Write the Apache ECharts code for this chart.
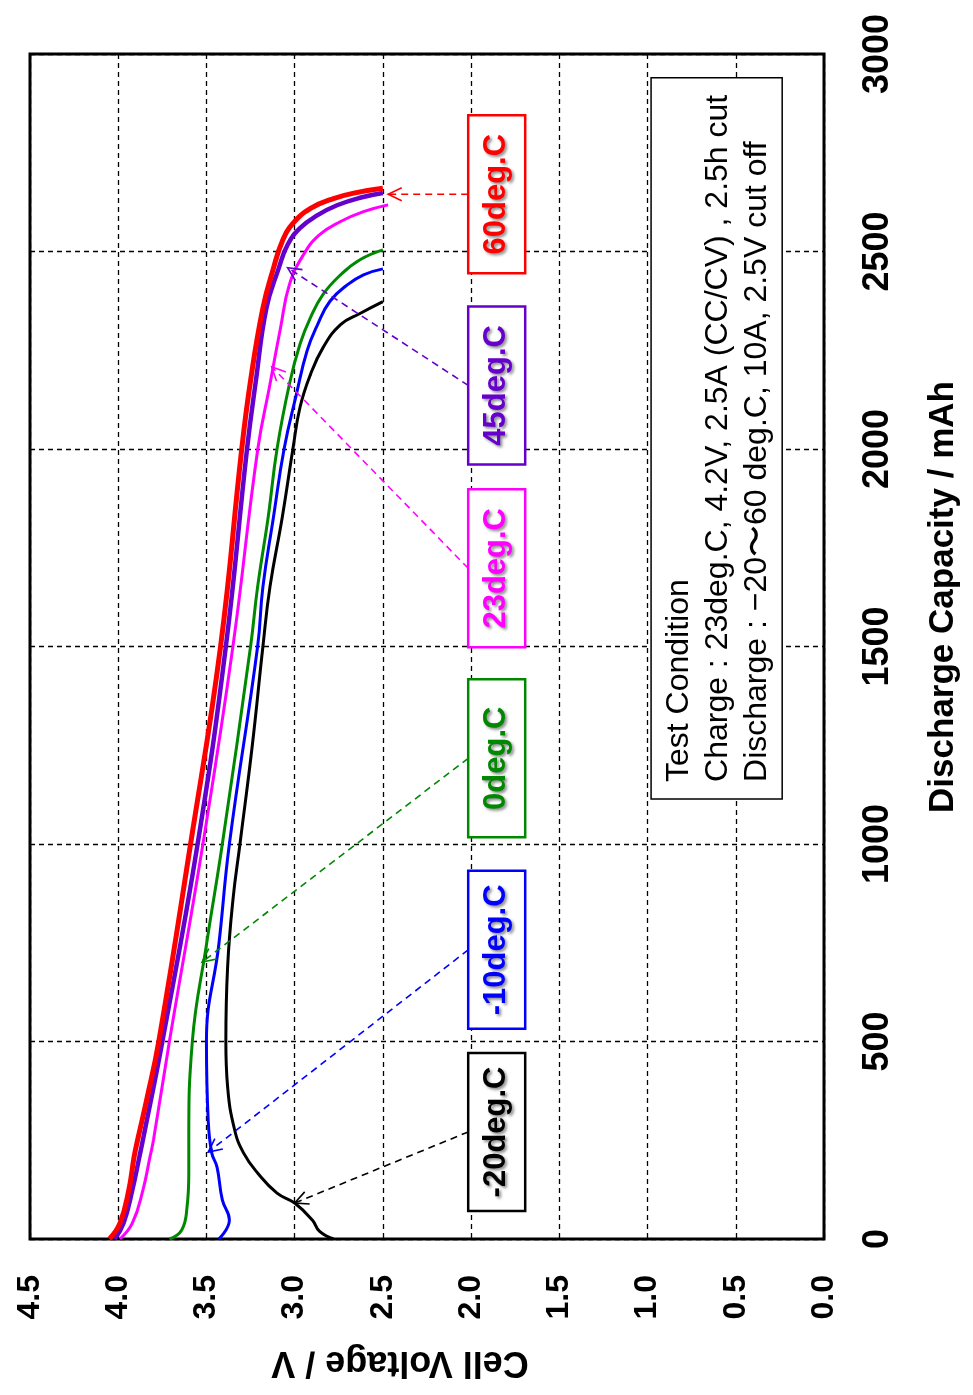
<!DOCTYPE html>
<html><head><meta charset="utf-8">
<script src="https://cdn.jsdelivr.net/npm/echarts@6.0.0/dist/echarts.min.js"></script>
<style>html,body{margin:0;padding:0;background:#fff;} #c{width:973px;height:1395px;}</style>
</head><body><div id="c"></div>
<script>
// Discharge capacity (mAh) / cell voltage (V) per temperature
const cap60  = [0, 40, 124, 208, 251, 350, 500, 1000, 1500, 2000, 2173, 2357, 2458, 2526, 2571, 2609, 2634, 2649, 2660];
const volt60 = [4.05, 3.99, 3.94, 3.91, 3.89, 3.84, 3.77, 3.59, 3.42, 3.30, 3.25, 3.18, 3.12, 3.07, 3.01, 2.91, 2.78, 2.65, 2.50];
const cap45  = [0, 40, 124, 208, 251, 500, 1000, 1500, 2000, 2172, 2357, 2458, 2517, 2559, 2592, 2617, 2636, 2648];
const volt45 = [4.02, 3.97, 3.92, 3.88, 3.86, 3.75, 3.55, 3.39, 3.27, 3.22, 3.16, 3.09, 3.04, 2.97, 2.87, 2.76, 2.63, 2.50];
const cap23  = [0, 40, 124, 208, 251, 500, 1000, 1500, 1997, 2164, 2307, 2416, 2492, 2542, 2576, 2601, 2618];
const volt23 = [3.99, 3.92, 3.86, 3.82, 3.80, 3.71, 3.52, 3.35, 3.21, 3.14, 3.08, 3.03, 2.95, 2.86, 2.74, 2.61, 2.47];
const cap0   = [0, 23, 81, 167, 251, 500, 745, 1000, 1500, 1651, 1828, 2000, 2164, 2265, 2333, 2391, 2441, 2479, 2504];
const volt0  = [3.71, 3.64, 3.61, 3.60, 3.60, 3.58, 3.50, 3.41, 3.25, 3.21, 3.15, 3.10, 3.03, 2.97, 2.91, 2.84, 2.74, 2.63, 2.50];
const capM10  = [0, 48, 99, 182, 218, 300, 500, 745, 1000, 1500, 1651, 1828, 2000, 2139, 2248, 2315, 2374, 2416, 2441, 2456];
const voltM10 = [3.43, 3.37, 3.41, 3.44, 3.47, 3.49, 3.50, 3.43, 3.37, 3.21, 3.18, 3.12, 3.06, 2.99, 2.93, 2.87, 2.80, 2.70, 2.61, 2.50];
const capM20  = [0, 20, 48, 91, 116, 167, 218, 276, 385, 500, 689, 858, 1000, 1250, 1500, 1651, 1828, 2000, 2105, 2189, 2256, 2315, 2343, 2373];
const voltM20 = [2.78, 2.86, 2.90, 3.00, 3.10, 3.21, 3.29, 3.34, 3.38, 3.39, 3.38, 3.35, 3.31, 3.24, 3.18, 3.14, 3.07, 3.01, 2.97, 2.91, 2.84, 2.74, 2.63, 2.50];

// Annotation labels and where they sit / point to (data coordinates: voltage, capacity)
const annLabels  = ['60deg.C', '45deg.C', '23deg.C', '0deg.C', '-10deg.C', '-20deg.C'];
const annBoxVolt = [1.855, 1.855, 1.855, 1.855, 1.855, 1.855];
const annBoxCap  = [2645, 2161, 1698, 1217, 732, 271];
const annTipVolt = [2.47, 3.04, 3.13, 3.525, 3.49, 3.00];
const annTipCap  = [2645, 2459, 2208, 701, 220, 91];

const condLines = ['Test Condition', 'Charge : 23deg.C, 4.2V, 2.5A (CC/CV) , 2.5h cut', 'Discharge : \u221220\u301c60 deg.C, 10A, 2.5V cut off'];
const condBoxVolt = [0.98, 0.237];
const condBoxCap  = [2940, 1114];

const xName = 'Cell Voltage / V';
const yName = 'Discharge Capacity / mAh';

const colors = ['#ff0000', '#6600cc', '#ff00ff', '#008800', '#0000ff', '#000000'];
const widths = [5, 4.5, 3, 3, 3, 3];
const caps  = [cap60, cap45, cap23, cap0, capM10, capM20];
const volts = [volt60, volt45, volt23, volt0, voltM10, voltM20];

const FONT = '"Liberation Sans", Arial, sans-serif';
const chart = echarts.init(document.getElementById('c'), null, {renderer: 'canvas'});

const series = caps.map((c, k) => ({
  name: annLabels[k], type: 'line', smooth: 0.45, showSymbol: false, clip: false,
  lineStyle: {color: colors[k], width: widths[k]},
  data: c.map((v, i) => [volts[k][i], v]),
  z: 10 - k
}));
// draw order: low temps below, 60 / 45 on top
const order = [5, 4, 3, 2, 0, 1];

chart.setOption({
  animation: false,
  backgroundColor: '#fff',
  grid: {left: 30, top: 54, width: 794, height: 1185, show: true, borderColor: '#000', borderWidth: 3,
         backgroundColor: 'transparent', containLabel: false, outerBoundsMode: 'none'},
  xAxis: {type: 'value', min: 0, max: 4.5, interval: 0.5, inverse: true, position: 'bottom',
    axisLine: {show: false}, axisTick: {show: false},
    splitLine: {show: true, lineStyle: {color: '#000', type: [5, 4], width: 1.3}},
    axisLabel: {rotate: 90, margin: 36, fontSize: 32, fontWeight: 'bold', color: '#000', fontFamily: FONT,
      formatter: v => v.toFixed(1)}},
  yAxis: {type: 'value', min: 0, max: 3000, interval: 500, position: 'right',
    axisLine: {show: false}, axisTick: {show: false},
    splitLine: {show: true, lineStyle: {color: '#000', type: [5, 4], width: 1.3}},
    axisLabel: {rotate: 90, margin: 36, fontSize: 36, fontWeight: 'bold', color: '#000', fontFamily: FONT,
      formatter: v => String(v)}},
  series: order.map(k => series[k])
});

const P = (v, c) => chart.convertToPixel({gridIndex: 0}, [v, c]);
const els = [];
// axis names
els.push({type: 'text', x: 400, y: 1362, rotation: Math.PI, z: 20,
  style: {text: xName, font: 'bold 36px ' + FONT, fill: '#000', align: 'center', verticalAlign: 'middle'}});
els.push({type: 'text', x: 943, y: 597, rotation: Math.PI / 2, z: 20,
  style: {text: yName, font: 'bold 35px ' + FONT, fill: '#000', align: 'center', verticalAlign: 'middle'}});

// annotation boxes with dashed arrows
const BW = 57, BH = 158;
annLabels.forEach((lab, k) => {
  const c = P(annBoxVolt[k], annBoxCap[k]);
  const tip = P(annTipVolt[k], annTipCap[k]);
  const sx = c[0] - BW / 2, sy = c[1];
  const dx = tip[0] - sx, dy = tip[1] - sy, L = Math.hypot(dx, dy);
  const ux = dx / L, uy = dy / L, hl = 15, th = 0.45;
  const h1 = [tip[0] - hl * (ux * Math.cos(th) - uy * Math.sin(th)), tip[1] - hl * (uy * Math.cos(th) + ux * Math.sin(th))];
  const h2 = [tip[0] - hl * (ux * Math.cos(-th) - uy * Math.sin(-th)), tip[1] - hl * (uy * Math.cos(-th) + ux * Math.sin(-th))];
  els.push({type: 'line', z: 30, shape: {x1: sx, y1: sy, x2: tip[0], y2: tip[1]},
    style: {stroke: colors[k], lineWidth: 1.6, lineDash: [7, 5]}});
  els.push({type: 'polyline', z: 30, shape: {points: [h1, tip, h2]},
    style: {stroke: colors[k], lineWidth: 1.6, fill: null}});
  els.push({type: 'rect', z: 31, shape: {x: c[0] - BW / 2, y: c[1] - BH / 2, width: BW, height: BH},
    style: {fill: '#fff', stroke: colors[k], lineWidth: 2.5}});
  els.push({type: 'text', z: 32, x: c[0], y: c[1], rotation: Math.PI / 2,
    style: {text: lab, font: 'bold 31px ' + FONT, fill: colors[k], align: 'center', verticalAlign: 'middle',
      textShadowColor: 'rgba(0,0,0,0.45)', textShadowBlur: 3, textShadowOffsetX: 2, textShadowOffsetY: 2}});
});

// test condition box
const b1 = P(condBoxVolt[0], condBoxCap[0]);
const b2 = P(condBoxVolt[1], condBoxCap[1]);
els.push({type: 'rect', z: 31, shape: {x: b1[0], y: b1[1], width: b2[0] - b1[0], height: b2[1] - b1[1]},
  style: {fill: '#fff', stroke: '#000', lineWidth: 1.5}});
els.push({type: 'text', z: 32, x: b1[0] + 9, y: b2[1] - 17, rotation: Math.PI / 2,
  style: {text: condLines.join('\n'), font: '32px ' + FONT, fill: '#000', align: 'left', verticalAlign: 'top', lineHeight: 39}});

chart.setOption({graphic: {elements: els}});
</script></body></html>
